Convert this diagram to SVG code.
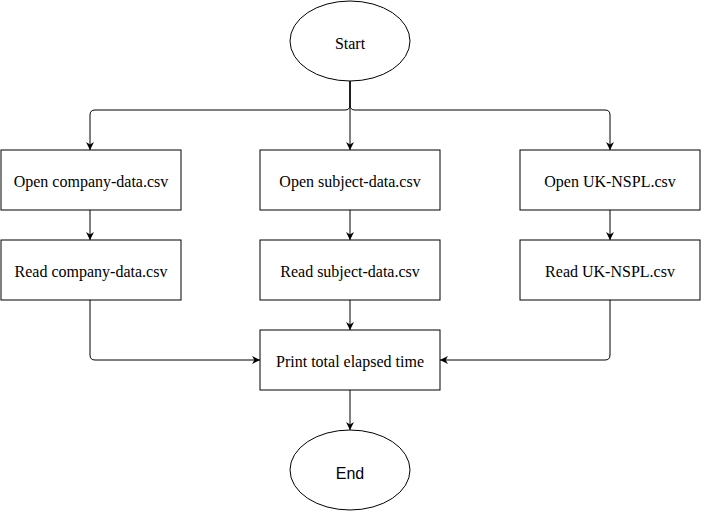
<svg xmlns="http://www.w3.org/2000/svg" width="701" height="511" viewBox="0 0 701 511">
<defs>
<marker id="arr" viewBox="0 0 10 10" refX="10" refY="5" markerWidth="8" markerHeight="8" markerUnits="userSpaceOnUse" orient="auto">
<path d="M0,0 L10,5 L0,10 L3,5 Z" fill="#000"/>
</marker>
</defs>
<style>
.box{fill:#fff;stroke:#000;stroke-width:1}
.t{font-family:"Liberation Serif","Times New Roman",serif;font-size:16px;fill:#000;text-anchor:middle;dominant-baseline:central}
.ts{font-family:"Liberation Sans",Arial,sans-serif;font-size:16px;fill:#000;text-anchor:middle;dominant-baseline:central}
.c{fill:none;stroke:#000;stroke-width:1;marker-end:url(#arr)}
</style>
<rect width="701" height="511" fill="#fff"/>
<g id="connectors">
<path class="c" d="M350,81 L350,150"/>
<path class="c" d="M350,81 L350,105 Q350,110 345,110 L95,110 Q90,110 90,115 L90,150"/>
<path class="c" d="M350,81 L350,105 Q350,110 355,110 L605,110 Q610,110 610,115 L610,150"/>
<path class="c" d="M90,210 L90,240"/>
<path class="c" d="M350,210 L350,240"/>
<path class="c" d="M610,210 L610,240"/>
<path class="c" d="M350,300 L350,330"/>
<path class="c" d="M90,300 L90,355 Q90,360 95,360 L260,360"/>
<path class="c" d="M610,300 L610,355 Q610,360 605,360 L440,360"/>
<path class="c" d="M350,390 L350,430"/>
</g>
<g id="start"><ellipse class="box" cx="350" cy="41" rx="60" ry="40"/><text class="t" x="350" y="43">Start</text></g>
<g id="open-company"><rect class="box" x="1" y="150" width="180" height="60"/><text class="t" x="91" y="181">Open company-data.csv</text></g>
<g id="open-subject"><rect class="box" x="260" y="150" width="180" height="60"/><text class="t" x="350" y="181">Open subject-data.csv</text></g>
<g id="open-nspl"><rect class="box" x="520" y="150" width="180" height="60"/><text class="t" x="610" y="181">Open UK-NSPL.csv</text></g>
<g id="read-company"><rect class="box" x="1" y="240" width="180" height="60"/><text class="t" x="91" y="271">Read company-data.csv</text></g>
<g id="read-subject"><rect class="box" x="260" y="240" width="180" height="60"/><text class="t" x="350" y="271">Read subject-data.csv</text></g>
<g id="read-nspl"><rect class="box" x="520" y="240" width="180" height="60"/><text class="t" x="610" y="271">Read UK-NSPL.csv</text></g>
<g id="print"><rect class="box" x="260" y="330" width="180" height="60"/><text class="t" x="350" y="361">Print total elapsed time</text></g>
<g id="end"><ellipse class="box" cx="350" cy="470" rx="60" ry="40"/><text class="ts" x="350" y="473">End</text></g>
</svg>
